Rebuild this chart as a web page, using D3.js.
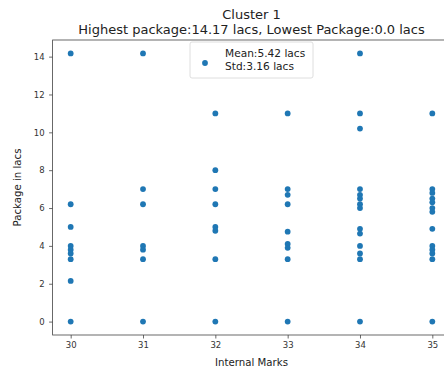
<!DOCTYPE html>
<html>
<head>
<meta charset="utf-8">
<script src="https://cdn.jsdelivr.net/npm/d3@7"></script>
<style>
  html, body { margin: 0; padding: 0; background: #fff; }
  svg { display: block; font-family: "DejaVu Sans", sans-serif; }
</style>
</head>
<body>
<svg id="chart" width="444" height="371"></svg>
<script>
// Internal marks vs. placement package (lacs) for cluster 1
const marks = [30, 31, 32, 33, 34, 35];
const packagesByMark = [
  [14.17, 6.2, 5.0, 4.0, 3.8, 3.6, 3.3, 2.15, 0],
  [14.17, 7.0, 6.2, 4.0, 3.8, 3.3, 0],
  [11.0, 8.0, 7.0, 6.2, 5.0, 4.8, 3.3, 0],
  [11.0, 7.0, 6.7, 6.2, 4.75, 4.1, 3.9, 3.3, 0],
  [14.17, 11.0, 10.2, 7.0, 6.7, 6.5, 6.2, 6.0, 4.9, 4.65, 4.0, 3.6, 3.3, 0],
  [11.0, 7.0, 6.8, 6.5, 6.3, 6.0, 5.8, 4.9, 4.0, 3.8, 3.6, 3.3, 0]
];
const xTicks = [30, 31, 32, 33, 34, 35];
const yTicks = [0, 2, 4, 6, 8, 10, 12, 14];
const titleLines = ["Cluster 1", "Highest package:14.17 lacs, Lowest Package:0.0 lacs"];
const legendLines = ["Mean:5.42 lacs", "Std:3.16 lacs"];
const xLabel = "Internal Marks";
const yLabel = "Package in lacs";

const points = [];
marks.forEach((m, i) => packagesByMark[i].forEach(v => points.push({ x: m, y: v })));

const plot = { left: 52.6, right: 450.4, top: 40, bottom: 335 };
const blue = "#1f77b4";
const svg = d3.select("#chart");

const x = d3.scaleLinear().domain([29.75, 35.25]).range([plot.left, plot.right]);
const y = d3.scaleLinear().domain([-0.7085, 14.8785]).range([plot.bottom, plot.top]);

// axes
const xAxis = svg.append("g")
  .attr("transform", `translate(0,${plot.bottom})`)
  .call(d3.axisBottom(x).tickValues(xTicks).tickFormat(d3.format("d")).tickSize(3.5).tickPadding(3.5));
const yAxis = svg.append("g")
  .attr("transform", `translate(${plot.left},0)`)
  .call(d3.axisLeft(y).tickValues(yTicks).tickFormat(d3.format("d")).tickSize(3.5).tickPadding(4.5));
[xAxis, yAxis].forEach(a => {
  a.select(".domain").remove();
  a.selectAll(".tick line").attr("stroke", "#444").attr("stroke-width", 0.8);
  a.selectAll(".tick text").attr("fill", "#333").style("font-size", "8.5px")
    .style("font-family", "DejaVu Sans, sans-serif");
});

// frame
svg.append("rect")
  .attr("x", plot.left).attr("y", plot.top)
  .attr("width", plot.right - plot.left).attr("height", plot.bottom - plot.top)
  .attr("fill", "none").attr("stroke", "#444").attr("stroke-width", 0.8);

// points
svg.append("g").selectAll("circle").data(points).join("circle")
  .attr("cx", d => x(d.x)).attr("cy", d => y(d.y)).attr("r", 2.9)
  .attr("fill", blue);

// titles
svg.append("g").selectAll("text").data(titleLines).join("text")
  .attr("x", (plot.left + plot.right) / 2)
  .attr("y", (d, i) => 18.5 + i * 15)
  .attr("text-anchor", "middle")
  .attr("fill", "#222")
  .style("font-size", "13px")
  .text(d => d);

// axis labels
svg.append("text")
  .attr("x", (plot.left + plot.right) / 2).attr("y", 366)
  .attr("text-anchor", "middle").attr("fill", "#222")
  .style("font-size", "10.2px").text(xLabel);
svg.append("text")
  .attr("transform", `translate(21,${(plot.top + plot.bottom) / 2}) rotate(-90)`)
  .attr("text-anchor", "middle").attr("fill", "#222")
  .style("font-size", "10.2px").text(yLabel);

// legend
const lg = svg.append("g").attr("transform", "translate(190,42)");
lg.append("rect").attr("width", 123).attr("height", 36).attr("rx", 2)
  .attr("fill", "#fff").attr("fill-opacity", 0.8)
  .attr("stroke", "#d6d6d6").attr("stroke-width", 0.8);
lg.append("circle").attr("cx", 15).attr("cy", 21).attr("r", 2.9).attr("fill", blue);
lg.selectAll("text.l").data(legendLines).join("text").attr("class", "l")
  .attr("x", 35).attr("y", (d, i) => 14.5 + i * 13)
  .attr("fill", "#222").style("font-size", "10.6px")
  .text(d => d);
</script>
</body>
</html>
